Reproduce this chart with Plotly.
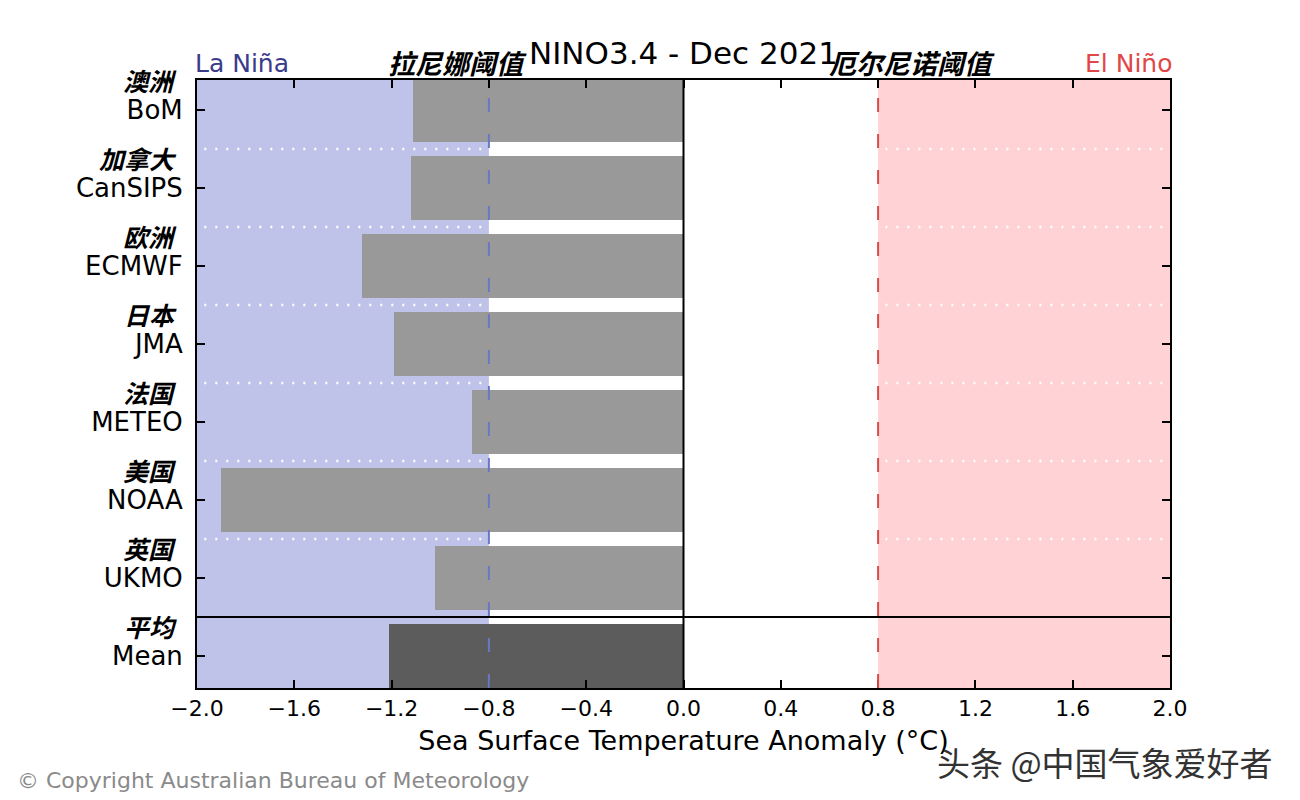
import plotly.graph_objects as go

models = ["BoM", "CanSIPS", "ECMWF", "JMA", "METEO", "NOAA", "UKMO", "Mean"]
models_cn = ["澳洲", "加拿大", "欧洲", "日本", "法国", "美国", "英国", "平均"]
anomaly = [-1.11, -1.12, -1.32, -1.19, -0.87, -1.90, -1.02, -1.21]
x_ticks = [-2.0, -1.6, -1.2, -0.8, -0.4, 0.0, 0.4, 0.8, 1.2, 1.6, 2.0]
x_ticklabels = ["\u22122.0", "\u22121.6", "\u22121.2", "\u22120.8", "\u22120.4", "0.0",
                "0.4", "0.8", "1.2", "1.6", "2.0"]
la_nina_threshold = -0.8
el_nino_threshold = 0.8

n = len(models)
ypos = [n - 1 - i for i in range(n)]  # BoM at top, Mean at bottom
bar_colors = ["#999999"] * (n - 1) + ["#5c5c5c"]

fig = go.Figure()
fig.add_trace(go.Bar(
    x=anomaly, y=ypos, orientation="h", width=0.82,
    marker=dict(color=bar_colors, line=dict(width=0)),
    hoverinfo="skip", showlegend=False,
))

shapes = []
shapes.append(dict(type="rect", xref="x", yref="paper", x0=-2.0, x1=la_nina_threshold,
                   y0=0, y1=1, fillcolor="#c0c3e9", line=dict(width=0), layer="below"))
shapes.append(dict(type="rect", xref="x", yref="paper", x0=el_nino_threshold, x1=2.0,
                   y0=0, y1=1, fillcolor="#ffd3d5", line=dict(width=0), layer="below"))
for k in range(1, n - 1):
    yy = k + 0.5
    for (a, b) in [(-1.97, la_nina_threshold), (el_nino_threshold + 0.03, 1.97)]:
        shapes.append(dict(type="line", xref="x", yref="y", x0=a, x1=b, y0=yy, y1=yy,
                           line=dict(color="white", width=2.5, dash="2px,9px"), layer="above"))
shapes.append(dict(type="line", xref="x", yref="paper", x0=la_nina_threshold, x1=la_nina_threshold,
                   y0=0, y1=1, line=dict(color="#6a78c4", width=2, dash="14px,22px"), layer="above"))
shapes.append(dict(type="line", xref="x", yref="paper", x0=el_nino_threshold, x1=el_nino_threshold,
                   y0=0, y1=1, line=dict(color="#d94a4a", width=2, dash="14px,22px"), layer="above"))
shapes.append(dict(type="line", xref="x", yref="paper", x0=0, x1=0, y0=0, y1=1,
                   line=dict(color="black", width=2), layer="above"))
shapes.append(dict(type="line", xref="paper", yref="y", x0=0, x1=1, y0=0.5, y1=0.5,
                   line=dict(color="black", width=2), layer="above"))

annotations = []
for yv, cn in zip(ypos, models_cn):
    annotations.append(dict(
        x=0, y=yv, xref="paper", yref="y", xanchor="right", yanchor="middle",
        xshift=-18, yshift=30, text="<b><i>" + cn + "</i></b>", showarrow=False,
        font=dict(family="Noto Sans CJK SC", size=25, color="black"),
    ))

annotations += [
    dict(x=0.5, y=1.0, xref="paper", yref="paper", xanchor="center", yanchor="bottom", yshift=7,
         text="NINO3.4 - Dec 2021", showarrow=False,
         font=dict(family="DejaVu Sans", size=31, color="black")),
    dict(x=0, y=1.0, xref="paper", yref="paper", xanchor="left", yanchor="bottom", yshift=0,
         xshift=-4, text="La Niña", showarrow=False,
         font=dict(family="DejaVu Sans", size=25, color="#3b3b8c")),
    dict(x=1, y=1.0, xref="paper", yref="paper", xanchor="right", yanchor="bottom", yshift=0,
         xshift=4, text="El Niño", showarrow=False,
         font=dict(family="DejaVu Sans", size=25, color="#e04848")),
    dict(x=-0.93, y=1.0, xref="x", yref="paper", xanchor="center", yanchor="bottom", yshift=-4,
         text="<b><i>拉尼娜阈值</i></b>", showarrow=False,
         font=dict(family="Noto Sans CJK SC", size=27, color="black")),
    dict(x=0.94, y=1.0, xref="x", yref="paper", xanchor="center", yanchor="bottom", yshift=-4,
         text="<b><i>厄尔尼诺阈值</i></b>", showarrow=False,
         font=dict(family="Noto Sans CJK SC", size=27, color="black")),
]

fig.update_layout(
    width=1300, height=800,
    margin=dict(l=189, r=138, t=72, b=120, pad=0),
    paper_bgcolor="white", plot_bgcolor="white",
    shapes=shapes, annotations=annotations,
    bargap=0,
    xaxis=dict(
        range=[-2.0, 2.0], tickvals=x_ticks, ticktext=x_ticklabels,
        ticks="inside", ticklen=8, tickwidth=1.5, tickcolor="black",
        showline=True, linecolor="black", linewidth=2, mirror="ticks",
        showgrid=False, zeroline=False,
        tickfont=dict(family="DejaVu Sans", size=22, color="black"),
        title=dict(text="Sea Surface Temperature Anomaly (°C)", standoff=11,
                   font=dict(family="DejaVu Sans", size=27, color="black")),
    ),
    yaxis=dict(
        range=[-0.41, n - 1 + 0.385], tickvals=ypos, ticktext=models,
        ticks="inside", ticklen=8, tickwidth=1.5, tickcolor="black",
        showline=True, linecolor="black", linewidth=2, mirror="ticks",
        showgrid=False, zeroline=False, ticklabelstandoff=7,
        tickfont=dict(family="DejaVu Sans", size=26, color="black"),
    ),
)

fig.add_annotation(x=0, y=0, xref="paper", yref="paper", xanchor="left", yanchor="middle",
                   xshift=-182, yshift=-92, text="© Copyright Australian Bureau of Meteorology",
                   showarrow=False, font=dict(family="DejaVu Sans", size=22, color="#8a8a8a"))
fig.add_annotation(x=1, y=0, xref="paper", yref="paper", xanchor="right", yanchor="middle",
                   xshift=105, yshift=-74, text="头条 @中国气象爱好者",
                   showarrow=False, font=dict(family="Noto Sans CJK SC", size=33, color="#333333"))

fig.write_html("out.html")
